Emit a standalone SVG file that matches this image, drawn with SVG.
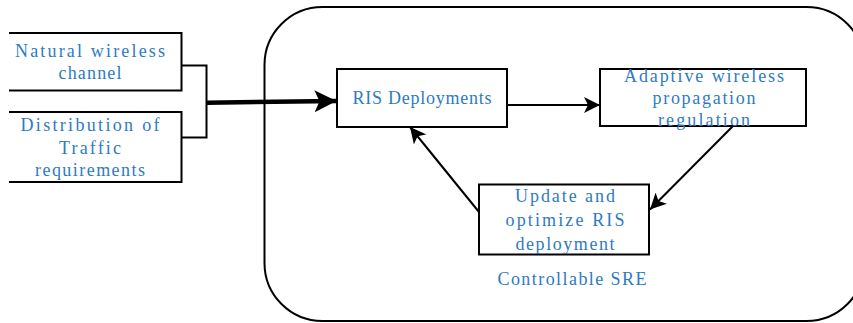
<svg xmlns="http://www.w3.org/2000/svg" width="853" height="323" viewBox="0 0 853 323">
<defs>
<style>
.t{font-family:"Liberation Serif","DejaVu Serif",serif;font-size:18px;fill:#2E7BBF;text-anchor:middle}
.b{fill:#fff;stroke:#000;stroke-width:2}
.l{fill:none;stroke:#000;stroke-width:2}
</style>
<marker id="ah" viewBox="0 0 16 16" refX="16" refY="8" markerWidth="16" markerHeight="16" markerUnits="userSpaceOnUse" orient="auto">
<path d="M0,0 L16,8 L0,16 L4,8 Z" fill="#000"/>
</marker>
<marker id="ahb" viewBox="0 0 22 22" refX="22" refY="11" markerWidth="22" markerHeight="22" markerUnits="userSpaceOnUse" orient="auto">
<path d="M0,0 L22,11 L0,22 L5,11 Z" fill="#000"/>
</marker>
</defs>
<rect fill="#fff" width="853" height="323"/>
<g id="sre">
<rect class="l" x="264.5" y="7" width="600" height="314" rx="58" ry="58"/>
<text class="t" x="572" y="285" textLength="149" lengthAdjust="spacing">Controllable SRE</text>
</g>
<g id="natural">
<path class="b" d="M9,33 H181.5 V90.5 H9"/>
<text class="t" x="90" y="56.5" textLength="150" lengthAdjust="spacing">Natural wireless</text>
<text class="t" x="90" y="79" textLength="63" lengthAdjust="spacing">channel</text>
</g>
<g id="traffic">
<path class="b" d="M9,112 H181.5 V182 H9"/>
<text class="t" x="90" y="131" textLength="139" lengthAdjust="spacing">Distribution of</text>
<text class="t" x="90" y="153.5" textLength="62" lengthAdjust="spacing">Traffic</text>
<text class="t" x="90" y="176" textLength="110" lengthAdjust="spacing">requirements</text>
</g>
<g id="ris">
<rect class="b" x="337" y="69" width="170" height="58"/>
<text class="t" x="422" y="104" textLength="139" lengthAdjust="spacing">RIS Deployments</text>
</g>
<g id="adaptive">
<rect class="b" x="600" y="69" width="206" height="57"/>
<text class="t" x="704" y="82" textLength="160" lengthAdjust="spacing">Adaptive wireless</text>
<text class="t" x="704" y="104" textLength="103" lengthAdjust="spacing">propagation</text>
<text class="t" x="704" y="126" textLength="92" lengthAdjust="spacing">regulation</text>
</g>
<g id="update">
<rect class="b" x="479" y="184.5" width="170" height="70"/>
<text class="t" x="565" y="202" textLength="100" lengthAdjust="spacing">Update and</text>
<text class="t" x="565" y="226" textLength="119" lengthAdjust="spacing">optimize RIS</text>
<text class="t" x="565" y="250" textLength="99" lengthAdjust="spacing">deployment</text>
</g>
<g id="connectors">
<path class="l" d="M181.5,65.5 H206.5 V137.5 H181.5"/>
<path d="M206.5,102.7 L336.5,101" fill="none" stroke="#000" stroke-width="4.5" marker-end="url(#ahb)"/>
<path class="l" d="M507,105 L600,105" marker-end="url(#ah)"/>
<path class="l" d="M733,126 L650,209.5" marker-end="url(#ah)"/>
<path class="l" d="M479,212 L410,127" marker-end="url(#ah)"/>
</g>
</svg>
